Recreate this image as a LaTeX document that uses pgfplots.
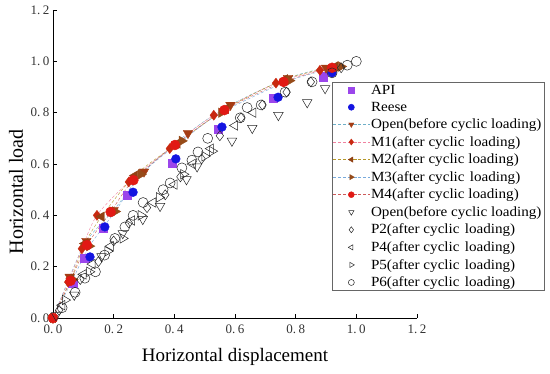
\documentclass[border=0pt]{standalone}
\usepackage{pgfplots}
\pgfplotsset{compat=1.18}
\usepackage{fontspec}
\setmainfont{Liberation Serif}
\newfontfamily\legfont[FakeStretch=1.08]{Liberation Serif}
\newcommand{\dsp}{\ \kern1.5pt}
\definecolor{apic}{RGB}{155,70,235}
\definecolor{reesec}{RGB}{20,20,225}
\definecolor{openc}{RGB}{165,60,20}
\definecolor{mone}{RGB}{200,40,15}
\definecolor{mtwo}{RGB}{145,65,20}
\definecolor{mthree}{RGB}{150,75,25}
\definecolor{mfour}{RGB}{225,25,20}
\definecolor{lopen}{RGB}{110,175,200}
\definecolor{lone}{RGB}{240,130,160}
\definecolor{ltwo}{RGB}{180,150,40}
\definecolor{lthree}{RGB}{120,170,220}
\definecolor{lfour}{RGB}{205,90,90}
\begin{document}
\begin{tikzpicture}
\begin{axis}[name=ax, scale only axis, width=364pt, height=308pt,
  xmin=0, xmax=1.2, ymin=0, ymax=1.2, clip=false,
  axis x line*=bottom, axis y line*=left,
  axis line style={black, line width=0.8pt},
  xtick={0,0.2,0.4,0.6,0.8,1.0,1.2},
  ytick={0,0.2,0.4,0.6,0.8,1.0,1.2},
  xticklabels={0.\kern2.5pt0,0.\kern2.5pt2,0.\kern2.5pt4,0.\kern2.5pt6,0.\kern2.5pt8,1.\kern2.5pt0,1.\kern2.5pt2},
  yticklabels={0.\kern2.5pt0,0.\kern2.5pt2,0.\kern2.5pt4,0.\kern2.5pt6,0.\kern2.5pt8,1.\kern2.5pt0,1.\kern2.5pt2},
  tick align=inside, major tick length=4pt,
  tick style={black, line width=0.8pt},
  ticklabel style={font=\fontsize{13}{15}\selectfont, text=black!80},
  xticklabel style={yshift=-3pt},
  xlabel={Horizontal displacement},
  ylabel={Horizontal load},
  xlabel style={font=\fontsize{19}{22}\selectfont, at={([yshift=-39pt]rel axis cs:0.5,0)}, anchor=center},
  ylabel style={font=\fontsize{20}{23}\selectfont, at={([xshift=-37pt]rel axis cs:0,0.41)}, anchor=center},
  legend cell align=left,
  legend style={at={(rel axis cs:0.766,0.766)}, anchor=north west, draw=black!60, line width=0.6pt,
    font=\legfont\fontsize{14}{15}\selectfont, row sep=5pt, inner xsep=1pt, inner ysep=2pt,
    nodes={inner xsep=1.5pt, inner ysep=0.6pt}},
  legend image code/.code={\draw[mark repeat=2,mark phase=2,#1,mark size=3pt] plot coordinates {(0pt,0pt) (18pt,0pt) (36pt,0pt)};},
]
% API
\addplot[only marks, mark=square*, mark size=4.2pt, draw=apic, fill=apic] coordinates {
(0.065,0.135) (0.105,0.233) (0.165,0.35) (0.244,0.479) (0.392,0.604) (0.545,0.735) (0.725,0.857) (0.89,0.94)};
\addlegendentry{API}
% Reese
\addplot[only marks, mark=*, mark size=4.4pt, draw=reesec, fill=reesec] coordinates {
(0.122,0.238) (0.171,0.355) (0.264,0.49) (0.405,0.62) (0.557,0.744) (0.742,0.86) (0.92,0.955)};
\addlegendentry{Reese}
% Open (before) filled
\addplot[smooth, densely dashed, thin, color=lopen, mark=triangle*, mark size=5.5pt,
  mark options={solid, rotate=180, draw=openc, fill=openc}] coordinates {
(0,0) (0.055,0.16) (0.11,0.30) (0.20,0.42) (0.30,0.57) (0.445,0.72) (0.585,0.83) (0.775,0.935) (0.90,0.975)};
\addlegendentry{Open(before cyclic loading)}
% M1
\addplot[smooth, densely dashed, thin, color=lone, mark=diamond*, mark size=5pt,
  mark options={solid, draw=mone, fill=mone}] coordinates {
(0,0) (0.05,0.14) (0.095,0.27) (0.145,0.40) (0.25,0.53) (0.385,0.66) (0.53,0.79) (0.735,0.915) (0.88,0.965)};
\addlegendentry{M1(after cyclic\dsp loading)}
% M2
\addplot[smooth, densely dashed, thin, color=ltwo, mark=triangle*, mark size=5.5pt,
  mark options={solid, rotate=90, draw=mtwo, fill=mtwo}] coordinates {
(0,0) (0.06,0.155) (0.105,0.29) (0.16,0.395) (0.27,0.555) (0.41,0.68) (0.57,0.815) (0.765,0.93) (0.93,0.98)};
\addlegendentry{M2(after cyclic loading)}
% M3
\addplot[smooth, densely dashed, thin, color=lthree, mark=triangle*, mark size=5.5pt,
  mark options={solid, rotate=270, draw=mthree, fill=mthree}] coordinates {
(0,0) (0.065,0.15) (0.12,0.28) (0.205,0.415) (0.29,0.56) (0.425,0.69) (0.555,0.80) (0.78,0.925) (0.95,0.98)};
\addlegendentry{M3(after cyclic\dsp loading)}
% M4
\addplot[smooth, densely dashed, thin, color=lfour, mark=*, mark size=5pt,
  mark options={solid, draw=mfour, fill=mfour}] coordinates {
(0,0) (0.058,0.145) (0.112,0.284) (0.19,0.413) (0.265,0.537) (0.402,0.674) (0.565,0.81) (0.76,0.92) (0.92,0.975)};
\addlegendentry{M4(after cyclic loading)}
% Open (before) hollow
\addplot[only marks, mark=triangle, mark size=5.5pt, mark options={rotate=180, draw=black!85, line width=0.5pt}] coordinates {
(0.01,0.01) (0.07,0.09) (0.16,0.24) (0.23,0.33) (0.296,0.385) (0.353,0.436) (0.44,0.54) (0.475,0.59) (0.59,0.69) (0.657,0.74) (0.743,0.79) (0.838,0.84) (0.897,0.895)};
\addlegendentry{Open(before cyclic loading)}
% P2
\addplot[only marks, mark=diamond, mark size=5pt, mark options={draw=black!85, line width=0.5pt}] coordinates {
(0.02,0.03) (0.09,0.15) (0.15,0.22) (0.2,0.30) (0.25,0.37) (0.31,0.43) (0.37,0.48) (0.42,0.55) (0.49,0.62) (0.55,0.71) (0.62,0.78) (0.69,0.83) (0.77,0.88) (0.85,0.92) (0.95,0.975)};
\addlegendentry{P2(after cyclic\dsp loading)}
% P4
\addplot[only marks, mark=triangle, mark size=5.5pt, mark options={rotate=90, draw=black!85, line width=0.5pt}] coordinates {
(0.03,0.05) (0.10,0.17) (0.13,0.21) (0.19,0.28) (0.26,0.38) (0.33,0.45) (0.40,0.52) (0.46,0.60) (0.52,0.66) (0.60,0.75) (0.66,0.80)};
\addlegendentry{P4(after cyclic\dsp loading)}
% P5
\addplot[only marks, mark=triangle, mark size=5.5pt, mark options={rotate=270, draw=black!85, line width=0.5pt}] coordinates {
(0.04,0.07) (0.12,0.18) (0.18,0.26) (0.23,0.31) (0.29,0.40) (0.35,0.47) (0.43,0.56) (0.50,0.63) (0.525,0.65)};
\addlegendentry{P5(after cyclic\dsp loading)}
% P6
\addplot[only marks, mark=o, mark size=5pt, mark options={draw=black!85, line width=0.5pt}] coordinates {
(0.03,0.04) (0.073,0.10) (0.105,0.155) (0.14,0.18) (0.17,0.245) (0.204,0.31) (0.237,0.355) (0.264,0.40) (0.297,0.45) (0.363,0.50) (0.386,0.526) (0.425,0.585) (0.458,0.615) (0.478,0.647) (0.51,0.70) (0.617,0.78) (0.64,0.82) (0.686,0.83) (0.765,0.88) (0.854,0.92) (0.92,0.955) (0.97,0.985) (1.0,1.0)};
\addlegendentry{P6(after cyclic\dsp loading)}
\end{axis}
\pgfresetboundingbox
\path ([shift={(-53pt,-55pt)}]ax.south west) rectangle ([shift={(497pt,318pt)}]ax.south west);
\end{tikzpicture}
\end{document}
